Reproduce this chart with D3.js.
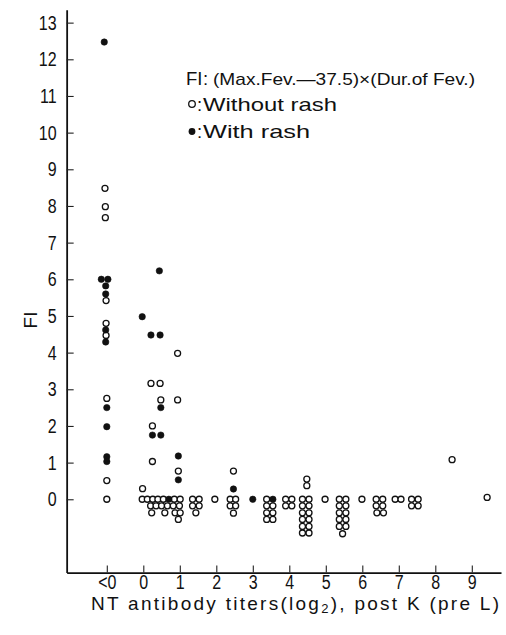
<!DOCTYPE html>
<html><head><meta charset="utf-8">
<script src="https://cdn.jsdelivr.net/npm/d3@7"></script>
<style>body{margin:0;background:#fff}svg{display:block}</style>
</head><body>
<svg id="c" width="506" height="635"></svg>
<script>
const xTickValues = [-1,0,1,2,3,4,5,6,7,8,9];
const xTickLabels = ["<0","0","1","2","3","4","5","6","7","8","9"];
const yTickValues = [0,1,2,3,4,5,6,7,8,9,10,11,12,13];

// Without rash (open circles): x = log2 titer position, y = FI
const withoutRashX = [
  -1.05,-1.04,-1.04,-1.02,-1.02,-1.02,-1.0,-1.0,-1.0,
  0.94,0.21,0.46,0.48,0.94,0.25,0.25,0.96,-0.02,
  -0.03,0.11,0.26,0.40,0.55,0.85,1.01,1.35,1.53,
  0.20,0.35,0.50,0.66,0.82,0.99,1.35,1.53,
  0.23,0.59,0.87,1.01,1.44,
  0.96,
  1.96,2.47,2.38,2.53,2.38,2.53,2.47,
  3.38,3.38,3.55,3.38,3.55,3.38,3.55,
  3.90,4.07,3.90,4.07,
  4.48,4.48,4.36,4.54,4.36,4.54,4.36,4.54,4.36,4.54,4.36,4.54,4.36,4.54,
  4.98,
  5.37,5.55,5.37,5.55,5.37,5.55,5.37,5.55,5.37,5.55,5.46,
  5.99,
  6.38,6.56,6.38,6.56,6.40,6.58,
  6.90,7.06,
  7.35,7.53,7.35,7.53,
  8.46,9.42
];
const withoutRashY = [
  8.48,7.98,7.68,5.42,4.80,4.47,2.75,0.51,0,
  3.98,3.16,3.16,2.71,2.71,2.0,1.03,0.77,0.29,
  0,0,0,0,0,0,0,0,0,
  -0.18,-0.18,-0.18,-0.18,-0.18,-0.18,-0.18,-0.18,
  -0.37,-0.37,-0.37,-0.37,-0.37,
  -0.55,
  0,0.77,0,0,-0.18,-0.18,-0.38,
  0,-0.18,-0.18,-0.37,-0.37,-0.55,-0.55,
  0,0,-0.18,-0.18,
  0.55,0.37,0,0,-0.18,-0.18,-0.37,-0.37,-0.55,-0.55,-0.74,-0.74,-0.92,-0.92,
  0,
  0,0,-0.18,-0.18,-0.37,-0.37,-0.55,-0.55,-0.74,-0.74,-0.94,
  0,
  0,0,-0.18,-0.18,-0.37,-0.37,
  0,0,
  0,0,-0.18,-0.18,
  1.08,0.05
];

// With rash (filled dots)
const withRashX = [
  -1.07,-1.15,-0.97,-1.03,-1.03,-1.03,-1.03,-1.0,-1.0,-1.0,-1.0,
  0.44,-0.03,0.21,0.46,0.48,0.25,0.48,0.96,0.96,0.70,
  2.47,3.0,3.55
];
const withRashY = [
  12.47,6.0,6.0,5.82,5.60,4.62,4.29,2.5,1.98,1.16,1.03,
  6.23,4.98,4.48,4.48,2.5,1.75,1.75,1.18,0.53,0,
  0.28,0,0
];

const FONT = "'Liberation Sans', Arial, sans-serif";
const svg = d3.select("#c");
svg.append("rect").attr("width",506).attr("height",635).attr("fill","#fff");

const x = d3.scaleLinear().domain([-2.1, 9.8]).range([66.65, 501]);
const y = d3.scaleLinear().domain([-2, 13.35]).range([572.6, 9.8]);

// X axis
const xAxis = d3.axisBottom(x).tickValues(xTickValues)
  .tickFormat((d,i)=>xTickLabels[i]).tickSize(-7).tickSizeOuter(0).tickPadding(2);
const gx = svg.append("g").attr("transform",`translate(0,${y(-2)})`).call(xAxis);
gx.select(".domain").attr("stroke","#111").attr("stroke-width",1.8);
gx.selectAll(".tick line").attr("stroke","#222").attr("stroke-width",1.1);
gx.selectAll(".tick text").attr("font-family",FONT).attr("font-size",20).attr("fill","#111")
  .attr("transform","scale(0.8,1)");

// Y axis
const yAxis = d3.axisLeft(y).tickValues(yTickValues).tickSize(-7).tickSizeOuter(0).tickPadding(0);
const gy = svg.append("g").attr("transform",`translate(${x(-2.1)},0)`).call(yAxis);
gy.select(".domain").attr("stroke","#111").attr("stroke-width",1.8);
gy.selectAll(".tick line").attr("stroke","#222").attr("stroke-width",1.1);
gy.selectAll(".tick text").attr("font-family",FONT).attr("font-size",20).attr("fill","#111")
  .attr("x",0).attr("transform","translate(-10,0) scale(0.8,1)");

// Axis titles
const title = svg.append("text").attr("x",91).attr("y",610)
  .attr("font-family",FONT).attr("font-size",19).attr("fill","#111")
  .attr("textLength",408).attr("lengthAdjust","spacing");
title.append("tspan").text("NT antibody titers(log");
title.append("tspan").attr("font-size",13).attr("dy",3).text("2");
title.append("tspan").attr("dy",-3).text("), post K (pre L)");

svg.append("text").attr("transform","translate(37,320) rotate(-90)")
  .attr("text-anchor","middle").attr("font-family",FONT).attr("font-size",19)
  .attr("fill","#111").text("FI");

// Points
const openData = withoutRashX.map((v,i)=>({x:v,y:withoutRashY[i]}));
const fillData = withRashX.map((v,i)=>({x:v,y:withRashY[i]}));
svg.append("g").selectAll("circle").data(openData).join("circle")
  .attr("cx",d=>x(d.x)).attr("cy",d=>y(d.y)).attr("r",3)
  .attr("fill","#fff").attr("stroke","#111").attr("stroke-width",1.3);
svg.append("g").selectAll("circle").data(fillData).join("circle")
  .attr("cx",d=>x(d.x)).attr("cy",d=>y(d.y)).attr("r",3.2)
  .attr("fill","#111").attr("stroke","#111").attr("stroke-width",0.6);

// Legend
const lg = svg.append("g").attr("font-family",FONT).attr("fill","#111");
lg.append("text").attr("x",186).attr("y",85).attr("font-size",18.5).text("FI");
lg.append("text").attr("x",203).attr("y",85).attr("font-size",18.5).text(":");
lg.append("text").attr("x",213).attr("y",85).attr("font-size",17)
  .attr("textLength",262).attr("lengthAdjust","spacingAndGlyphs")
  .text("(Max.Fev.\u201437.5)\u00D7(Dur.of Fev.)");
lg.append("circle").attr("cx",192).attr("cy",104).attr("r",3.3)
  .attr("fill","#fff").attr("stroke","#111").attr("stroke-width",1.3);
lg.append("text").attr("x",197).attr("y",111).attr("font-size",18.5).text(":");
lg.append("text").attr("x",203).attr("y",111).attr("font-size",18.5)
  .attr("textLength",134).attr("lengthAdjust","spacingAndGlyphs").text("Without rash");
lg.append("circle").attr("cx",192).attr("cy",131.5).attr("r",3.4).attr("fill","#111");
lg.append("text").attr("x",197).attr("y",138).attr("font-size",18.5).text(":");
lg.append("text").attr("x",203).attr("y",138).attr("font-size",18.5)
  .attr("textLength",107).attr("lengthAdjust","spacingAndGlyphs").text("With rash");
</script>
</body></html>
